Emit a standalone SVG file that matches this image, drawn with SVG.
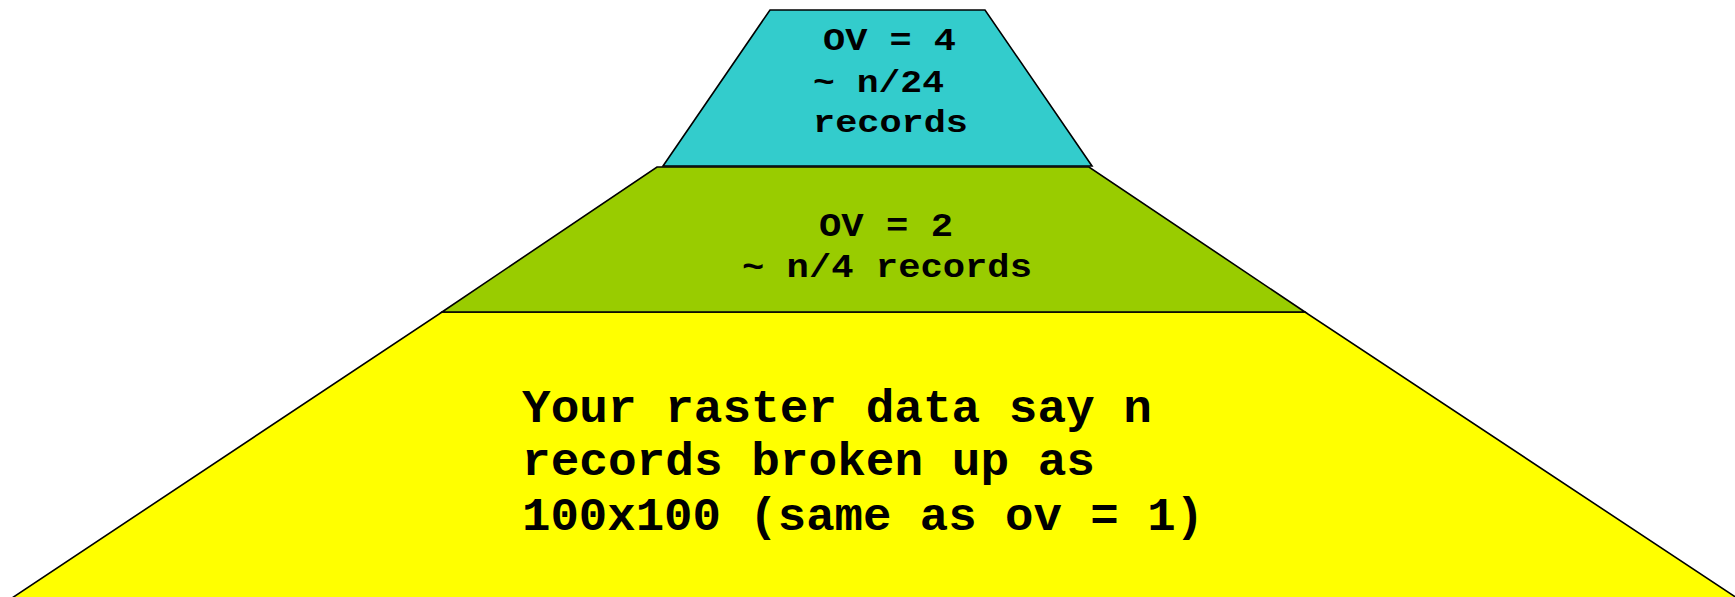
<svg xmlns="http://www.w3.org/2000/svg" width="1735" height="597" viewBox="0 0 1735 597">
<style>
.lvl{stroke:#000;stroke-width:1.6;stroke-linejoin:miter}
.t{font-family:"Liberation Mono","Courier New",monospace;font-weight:bold;fill:#000}
</style>
<rect width="1735" height="597" fill="#fff"/>
<g id="level1">
<polygon class="lvl" fill="#FFFF00" points="442,312 1305,312 1740,600 9,600"/>
<text class="t" font-size="47" x="522" y="422" textLength="630" lengthAdjust="spacingAndGlyphs">Your raster data say n</text>
<text class="t" font-size="47" x="522" y="475" textLength="573" lengthAdjust="spacingAndGlyphs">records broken up as</text>
<text class="t" font-size="47" x="522" y="530" textLength="682" lengthAdjust="spacingAndGlyphs">100x100 (same as ov = 1)</text>
</g>
<g id="level2">
<polygon class="lvl" fill="#99CC00" points="657,167 1089,167 1305,312 442,312"/>
<text class="t" font-size="33" x="819" y="236" textLength="134" lengthAdjust="spacingAndGlyphs">OV = 2</text>
<text class="t" font-size="33" x="742" y="277" textLength="290" lengthAdjust="spacingAndGlyphs">~ n/4 records</text>
</g>
<g id="level4">
<polygon class="lvl" fill="#33CCCC" points="770,10 985,10 1092,166 663,166"/>
<text class="t" font-size="31" x="823" y="50" textLength="133" lengthAdjust="spacingAndGlyphs">OV = 4</text>
<text class="t" font-size="31" x="813" y="92" textLength="131" lengthAdjust="spacingAndGlyphs">~ n/24</text>
<text class="t" font-size="31" x="813" y="132" textLength="155" lengthAdjust="spacingAndGlyphs">records</text>
</g>
<g id="connectors"></g>
</svg>
